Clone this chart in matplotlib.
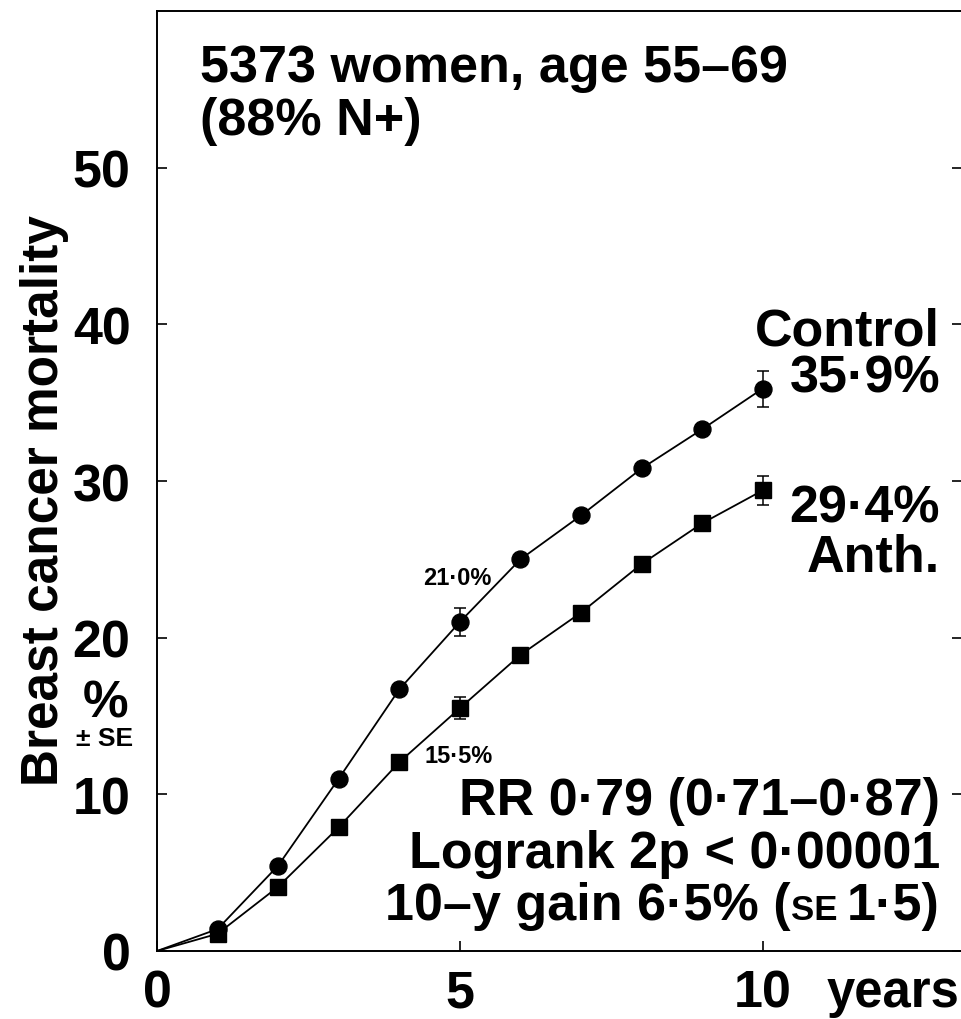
import matplotlib
matplotlib.use('Agg')
import matplotlib.pyplot as plt

# values (cumulative breast cancer mortality, %)
years = [0, 1, 2, 3, 4, 5, 6, 7, 8, 9, 10]
control = [0, 1.4, 5.45, 11.0, 16.7, 21.0, 25.0, 27.8, 30.8, 33.3, 35.9]
anth = [0, 1.1, 4.1, 7.9, 12.05, 15.5, 18.9, 21.6, 24.7, 27.3, 29.4]

se_years = [5, 10]
control_se = [0.9, 1.15]
anth_se = [0.7, 0.93]

yticks = [0, 10, 20, 30, 40, 50]
xticks = [0, 5, 10]
xticklabels = ['0', '5', '10']

W, H = 962, 1020
plt.rcParams['font.family'] = ['Liberation Sans', 'DejaVu Sans']
plt.rcParams['font.weight'] = 'bold'

fig = plt.figure(figsize=(W / 100, H / 100), dpi=100)
ax = fig.add_axes([157 / W, 1 - 952 / H, 1 - 157 / W, (952 - 12) / H])

def fx(x):
    return x / W

def fy(y):
    return 1 - y / H

# curves
ax.plot(years, control, color='black', lw=1.3, marker='o', ms=12.2,
        markevery=list(range(1, 11)), mec='black', mfc='black')
ax.plot(years, anth, color='black', lw=1.3, marker='s', ms=11.5,
        markevery=list(range(1, 11)), mec='black', mfc='black')

c_at = [control[years.index(y)] for y in se_years]
a_at = [anth[years.index(y)] for y in se_years]
ax.errorbar(se_years, c_at, yerr=control_se, fmt='none', ecolor='black',
            elinewidth=1.1, capsize=4, capthick=1.1)
ax.errorbar(se_years, a_at, yerr=anth_se, fmt='none', ecolor='black',
            elinewidth=1.1, capsize=4, capthick=1.1)

ax.set_xlim(0, 13.29)
ax.set_ylim(0, 60)
ax.set_xticks(xticks)
ax.set_xticklabels(xticklabels)
ax.set_yticks(yticks)

for s in ax.spines.values():
    s.set_linewidth(1.4)
ax.spines['right'].set_visible(False)

ax.tick_params(axis='y', direction='in', length=7, width=1.2, labelsize=37.5,
               pad=19, right=True)
ax.tick_params(axis='x', direction='in', length=7, width=1.2, labelsize=37.5,
               pad=12.5)

# small value labels at 5 years
ax.text(4.40, 23.4, '21·0%', size=17, va='baseline', ha='left')
ax.text(4.42, 12.07, '15·5%', size=17, va='baseline', ha='left')

# axis label
fig.text(fx(45), fy(500), 'Breast cancer mortality', rotation=90,
         ha='center', va='center', size=37)
fig.text(fx(106), fy(704), '%', ha='center', va='center', size=37)
fig.text(fx(105), fy(739), '± SE', ha='center', va='center', size=19)
fig.text(fx(827), fy(1007), 'years', ha='left', va='baseline', size=36.5)

# header
fig.text(fx(200), fy(82), '5373 women, age 55–69', ha='left',
         va='baseline', size=37.5)
fig.text(fx(200), fy(135), '(88% N+)', ha='left', va='baseline', size=37.5)

# group labels
fig.text(fx(940), fy(345), 'Control', ha='right', va='baseline', size=37.5)
fig.text(fx(940), fy(393), '35·9%', ha='right', va='baseline', size=37.5)
fig.text(fx(940), fy(523), '29·4%', ha='right', va='baseline', size=37.5)
fig.text(fx(940), fy(572), 'Anth.', ha='right', va='baseline', size=37.5)

# stats block
fig.text(fx(940), fy(815), 'RR 0·79 (0·71–0·87)', ha='right',
         va='baseline', size=37.5)
fig.text(fx(940), fy(868), 'Logrank 2p < 0·00001', ha='right',
         va='baseline', size=37.5)

r = fig.canvas.get_renderer()
x_right = 940
for part, size in [('1·5)', 37.5), ('SE ', 25), ('10–y gain 6·5% (', 37.5)]:
    t = fig.text(fx(x_right), fy(920), part, ha='right', va='baseline', size=size)
    x_right -= t.get_window_extent(r).width

fig.savefig('out.png', dpi=100)
